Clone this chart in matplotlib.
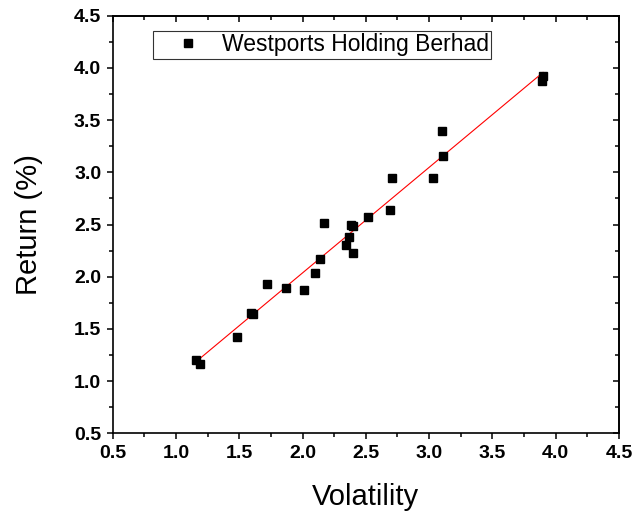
import matplotlib
matplotlib.use("Agg")
import matplotlib.pyplot as plt
import numpy as np
from matplotlib.ticker import MultipleLocator

plt.rcParams["font.family"] = ["Liberation Sans", "DejaVu Sans"]

volatility = [1.16, 1.19, 1.48, 1.59, 1.61, 1.72, 1.87, 2.01, 2.10, 2.14, 2.17, 2.34,
              2.37, 2.38, 2.40, 2.40, 2.52, 2.69, 2.71, 3.03, 3.10, 3.11, 3.89, 3.90]
returns = [1.20, 1.16, 1.42, 1.65, 1.64, 1.93, 1.89, 1.87, 2.04, 2.17, 2.51, 2.30,
           2.38, 2.50, 2.49, 2.23, 2.57, 2.64, 2.95, 2.95, 3.40, 3.16, 3.87, 3.92]
series_name = "Westports Holding Berhad"
ticks = [0.5, 1.0, 1.5, 2.0, 2.5, 3.0, 3.5, 4.0, 4.5]


def main():
    fig = plt.figure(figsize=(6.36, 5.17), dpi=100)
    ax = fig.add_axes([0.1772, 0.1619, 0.796, 0.8077])

    vol = np.array(volatility)
    ret = np.array(returns)

    # linear fit drawn across the data range
    slope, icept = np.polyfit(vol, ret, 1)
    xs = np.array([vol.min(), vol.max()])
    ax.plot(xs, slope * xs + icept, color="#ff0000", lw=0.8, zorder=2)

    ax.plot(vol, ret, ls="none", marker="s", ms=6, color="black",
            label=series_name, zorder=3)

    ax.set_xlim(0.5, 4.5)
    ax.set_ylim(0.5, 4.5)
    ax.set_xticks(ticks)
    ax.set_yticks(ticks)
    ax.set_xticklabels([f"{t:.1f}" for t in ticks], fontsize=14, fontweight="bold")
    ax.set_yticklabels([f"{t:.1f}" for t in ticks], fontsize=14, fontweight="bold")
    ax.xaxis.set_minor_locator(MultipleLocator(0.25))
    ax.yaxis.set_minor_locator(MultipleLocator(0.25))

    for sp in ax.spines.values():
        sp.set_linewidth(1.2)

    ax.tick_params(which="major", direction="out", length=4.3, width=1.1, pad=4)
    ax.tick_params(which="minor", direction="out", length=2.6, width=1.1)
    # mirrored ticks on top/right point inward
    ax2 = ax.secondary_xaxis("top")
    ax2.set_xticks(ticks)
    ax2.xaxis.set_minor_locator(MultipleLocator(0.25))
    ax2.tick_params(which="major", direction="in", length=4.3, width=1.1, labeltop=False)
    ax2.tick_params(which="minor", direction="in", length=2.6, width=1.1)
    ax3 = ax.secondary_yaxis("right")
    ax3.set_yticks(ticks)
    ax3.yaxis.set_minor_locator(MultipleLocator(0.25))
    ax3.tick_params(which="major", direction="in", length=4.3, width=1.1, labelright=False)
    ax3.tick_params(which="minor", direction="in", length=2.6, width=1.1)
    for a in (ax2, ax3):
        for sp in a.spines.values():
            sp.set_linewidth(1.2)

    ax.set_xlabel("Volatility", fontsize=21, labelpad=15)
    ax.set_ylabel("Return (%)", fontsize=21, labelpad=22)

    leg = fig.legend(loc="upper left", bbox_to_anchor=(153.3 / 636, 1 - 31 / 517),
                     borderaxespad=0, fontsize=16.5, frameon=True, fancybox=False,
                     borderpad=0.1, handlelength=2.85, handletextpad=0.05,
                     markerscale=1.0)
    leg.get_frame().set_edgecolor("black")
    leg.get_frame().set_linewidth(0.8)

    fig.savefig("out.png", dpi=100)


if __name__ == "__main__":
    main()
